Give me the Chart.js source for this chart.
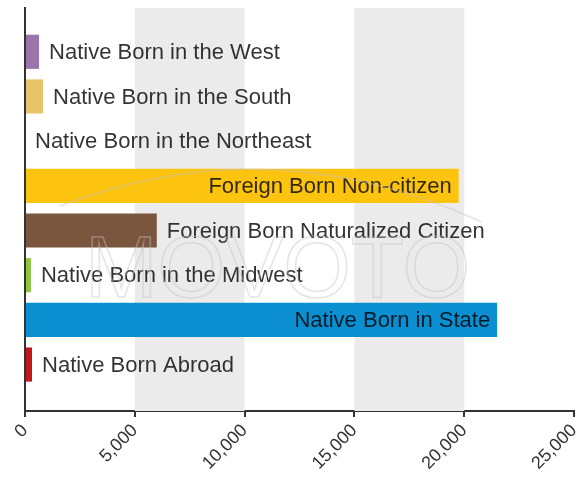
<!DOCTYPE html>
<html>
<head>
<meta charset="utf-8">
<script src="https://cdn.jsdelivr.net/npm/chart.js@4/dist/chart.umd.min.js"></script>
<style>
	html, body { margin: 0; padding: 0; background: #fff; }
</style>
</head>
<body>
<canvas id="chart" width="586" height="477"></canvas>
<script>
// Population by place of birth — horizontal bars, labels drawn beside/inside the bars
const categories = [
	"Native Born in the West",
	"Native Born in the South",
	"Native Born in the Northeast",
	"Foreign Born Non-citizen",
	"Foreign Born Naturalized Citizen",
	"Native Born in the Midwest",
	"Native Born in State",
	"Native Born Abroad",
];
const values = [640, 820, 0, 19750, 6000, 270, 21500, 320];
const barColors = ["#9b74ab", "#e8c36c", "#9a9a9a", "#fcc40f", "#7a563e", "#8cc63e", "#0b8fd1", "#c0161c"];
const tickValues = [0, 5000, 10000, 15000, 20000, 25000];
const shadedBands = [[5000, 10000], [15000, 20000]];

const bandPlugin = {
	id: "bands",
	beforeDatasetsDraw(chart) {
		const { ctx, chartArea } = chart;
		const x = chart.scales.x;
		ctx.save();
		ctx.fillStyle = "#ebebeb";
		shadedBands.forEach(([a, b]) => {
			const x0 = x.getPixelForValue(a);
			const x1 = x.getPixelForValue(b);
			ctx.fillRect(x0, chartArea.top, x1 - x0, chartArea.bottom - chartArea.top);
		});
		ctx.restore();
	},
};

const labelPlugin = {
	id: "barLabels",
	afterDatasetsDraw(chart) {
		const { ctx, chartArea } = chart;
		const meta = chart.getDatasetMeta(0);
		ctx.save();
		ctx.font = "22px 'Liberation Sans', Arial, sans-serif";
		ctx.textBaseline = "middle";
		ctx.fillStyle = "rgba(0,0,0,0.8)";
		meta.data.forEach((bar, i) => {
			const text = categories[i];
			const w = ctx.measureText(text).width;
			const barW = bar.x - chartArea.left;
			if (w + 14 < barW) {
				ctx.textAlign = "right";
				ctx.fillText(text, bar.x - 7, bar.y + 1);
			} else {
				ctx.textAlign = "left";
				ctx.fillText(text, bar.x + 10, bar.y + 1);
			}
		});
		ctx.restore();
	},
	afterDraw(chart) {
		// faint watermark
		const { ctx } = chart;
		ctx.save();
		ctx.strokeStyle = "rgba(195,195,195,0.45)";
		ctx.lineWidth = 1.5;
		ctx.font = "87px 'Liberation Sans', Arial, sans-serif";
		ctx.textBaseline = "alphabetic";
		ctx.strokeText("MOVOTO", 85, 297);
		ctx.beginPath();
		ctx.moveTo(60, 206);
		ctx.quadraticCurveTo(270, 125, 482, 222);
		ctx.stroke();
		ctx.restore();
	},
};

new Chart(document.getElementById("chart"), {
	type: "bar",
	data: {
		datasets: [
			{
				data: values.map((v, i) => ({ x: v, y: i })),
				backgroundColor: barColors,
				borderWidth: 0,
				categoryPercentage: 1,
				barPercentage: 0.78,
			},
		],
	},
	options: {
		indexAxis: "y",
		responsive: false,
		animation: false,
		layout: { padding: { left: 25, right: 12, top: 8, bottom: 0 } },
		scales: {
			x: {
				type: "linear",
				min: 0,
				max: 25000,
				afterBuildTicks: (s) => {
					s.ticks = tickValues.map((v) => ({ value: v }));
				},
				afterFit: (s) => {
					s.height = 66;
					s.paddingLeft = 0;
					s.paddingRight = 0;
				},
				ticks: {
					minRotation: 45,
					maxRotation: 45,
					padding: 3,
					color: "#333",
					font: { size: 18, family: "'Liberation Sans', Arial, sans-serif" },
					callback: (v) => Number(v).toLocaleString("en-US"),
				},
				grid: { drawOnChartArea: false, drawTicks: true, tickLength: 6, color: "#333", lineWidth: 2 },
				border: { display: true, color: "#333", width: 2 },
			},
			y: {
				type: "linear",
				reverse: true,
				offset: false,
				min: -0.98,
				max: 8.04,
				afterFit: (s) => {
					s.width = 0;
				},
				ticks: { display: false },
				grid: { display: false },
				border: { display: true, color: "#333", width: 2 },
			},
		},
		plugins: { legend: { display: false }, tooltip: { enabled: false } },
	},
	plugins: [bandPlugin, labelPlugin],
});
</script>
</body>
</html>
